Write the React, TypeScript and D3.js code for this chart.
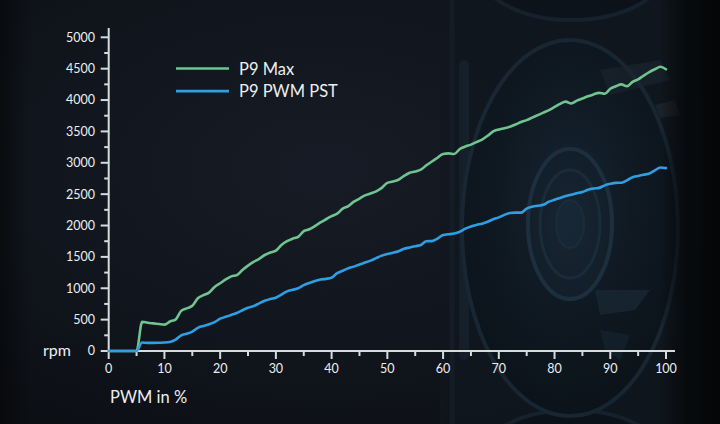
import React from "react";
import * as d3 from "d3";

const pwm: number[] = Array.from({ length: 101 }, (_, i) => i);

const p9Max: number[] = [
  0, 0, 0, 0, 0, 0, 465, 450, 440, 430,
  420, 470, 500, 640, 680, 720, 840, 890, 930, 1020,
  1080, 1140, 1190, 1210, 1290, 1360, 1420, 1470, 1530, 1570,
  1600, 1690, 1750, 1790, 1820, 1910, 1940, 1990, 2050, 2100,
  2150, 2190, 2270, 2310, 2380, 2430, 2480, 2510, 2545, 2600,
  2680, 2700, 2730, 2790, 2840, 2860, 2890, 2960, 3020, 3080,
  3140, 3150, 3140, 3220, 3260, 3290, 3330, 3370, 3430, 3500,
  3530, 3550, 3575, 3610, 3650, 3680, 3720, 3760, 3800, 3840,
  3890, 3940, 3975, 3945, 3990, 4025, 4060, 4090, 4115, 4100,
  4180, 4220, 4250, 4220, 4290, 4330, 4390, 4445, 4490, 4530,
  4490,
];

const p9PwmPst: number[] = [
  0, 0, 0, 0, 0, 0, 135, 130, 130, 132,
  135, 145, 180, 250, 275, 310, 370, 400, 425, 460,
  515, 545, 575, 605, 650, 690, 715, 760, 800, 830,
  850, 900, 950, 975, 1000, 1050, 1085, 1115, 1140, 1150,
  1170, 1240, 1280, 1320, 1345, 1380, 1410, 1440, 1480, 1520,
  1545, 1565, 1590, 1630, 1650, 1670, 1690, 1750, 1752, 1790,
  1850, 1860, 1872, 1900, 1950, 1985, 2010, 2030, 2060, 2100,
  2130, 2170, 2200, 2205, 2205, 2270, 2300, 2315, 2330, 2380,
  2410, 2440, 2470, 2490, 2515, 2535, 2570, 2590, 2600, 2640,
  2665, 2680, 2682, 2720, 2770, 2790, 2810, 2830, 2880, 2925,
  2915,
];

const seriesNames = ["P9 Max", "P9 PWM PST"];
const seriesColors = ["#6fc490", "#2f9fe4"];

const yMajorTicks: number[] = [0, 500, 1000, 1500, 2000, 2500, 3000, 3500, 4000, 4500, 5000];
const yMinorTicks: number[] = [250, 750, 1250, 1750, 2250, 2750, 3250, 3750, 4250, 4750];
const xMajorTicks: number[] = [0, 10, 20, 30, 40, 50, 60, 70, 80, 90, 100];
const xMinorTicks: number[] = [5, 15, 25, 35, 45, 55, 65, 75, 85, 95];

const yLabel = "rpm";
const xLabel = "PWM in %";

const W = 720;
const H = 424;
const FONT = "Lato, 'Open Sans', sans-serif";

export default function App() {
  const x = d3.scaleLinear().domain([0, 100]).range([108.7, 666]);
  const y = d3.scaleLinear().domain([0, 5000]).range([351, 37.3]);

  const line = d3
    .line<number>()
    .x((_, i) => x(pwm[i]))
    .y((d) => y(d))
    .curve(d3.curveMonotoneX);

  const series = [p9Max, p9PwmPst];
  const axisColor = "#d9dadc";
  const textColor = "#eceef0";

  return (
    <svg
      width={W}
      height={H}
      viewBox={`0 0 ${W} ${H}`}
      style={{ position: "absolute", left: 0, top: 0, display: "block" }}
    >
      <defs>
        <radialGradient id="bgGlow" cx="0.45" cy="0.4" r="0.7">
          <stop offset="0" stopColor="#161b25" />
          <stop offset="0.6" stopColor="#11151d" />
          <stop offset="1" stopColor="#0c0f14" />
        </radialGradient>
        <linearGradient id="rightFade" x1="0" x2="1" y1="0" y2="0">
          <stop offset="0" stopColor="#06080a" stopOpacity="0" />
          <stop offset="0.45" stopColor="#06080a" stopOpacity="0.85" />
          <stop offset="1" stopColor="#050607" stopOpacity="1" />
        </linearGradient>
        <linearGradient id="leftFade" x1="0" x2="1" y1="0" y2="0">
          <stop offset="0" stopColor="#050607" stopOpacity="1" />
          <stop offset="1" stopColor="#050607" stopOpacity="0" />
        </linearGradient>
        <linearGradient id="fanFade" x1="0" x2="1" y1="0" y2="0">
          <stop offset="0" stopColor="#12161e" stopOpacity="0.7" />
          <stop offset="0.2" stopColor="#12161e" stopOpacity="0" />
        </linearGradient>
        <radialGradient id="fanBody" cx="0.5" cy="0.42" r="0.6">
          <stop offset="0" stopColor="#172634" />
          <stop offset="0.55" stopColor="#0f1a23" />
          <stop offset="1" stopColor="#0b131a" />
        </radialGradient>
        <radialGradient id="hubGrad" cx="0.5" cy="0.5" r="0.5">
          <stop offset="0" stopColor="#1a2a38" />
          <stop offset="1" stopColor="#13202b" />
        </radialGradient>
      </defs>

      {/* background */}
      <rect x={0} y={0} width={W} height={H} fill="url(#bgGlow)" />
      <rect x={0} y={0} width={30} height={H} fill="url(#leftFade)" opacity={0.6} />

      {/* stylised fan */}
      <g opacity={0.85}>
        <rect x={452} y={-30} width={245} height={490} rx={26} fill="#10171f" stroke="#16222c" strokeWidth={5} />
        <rect x={459} y={60} width={10} height={300} rx={5} fill="#16222d" />
        <ellipse cx={572} cy={-40} rx={100} ry={60} fill="#0c131a" stroke="#172430" strokeWidth={4} />
        <ellipse cx={572} cy={470} rx={100} ry={60} fill="#0c131a" stroke="#172430" strokeWidth={4} />
        <ellipse cx={570} cy={228} rx={108} ry={188} fill="url(#fanBody)" stroke="#1a2a37" strokeWidth={4} />
        <path d="M 600 70 L 660 60 L 670 80 L 610 95 Z" fill="#1f2a33" opacity={0.6} />
        <path d="M 655 105 L 675 100 L 680 115 L 660 118 Z" fill="#33383e" opacity={0.45} />
        <path d="M 595 290 L 650 290 L 635 310 L 600 315 Z" fill="#1b2d3a" opacity={0.7} />
        <path d="M 600 330 L 630 335 L 620 360 L 605 350 Z" fill="#172733" opacity={0.7} />
        <ellipse cx={570} cy={224} rx={42} ry={75} fill="url(#hubGrad)" stroke="#1f3444" strokeWidth={4} />
        <ellipse cx={570} cy={224} rx={30} ry={54} fill="none" stroke="#1c2f3e" strokeWidth={3} />
        <ellipse cx={570} cy={224} rx={14} ry={24} fill="#192a38" stroke="#1d3041" strokeWidth={2} />
      </g>
      <rect x={440} y={0} width={120} height={H} fill="url(#fanFade)" />
      <rect x={660} y={0} width={60} height={H} fill="url(#rightFade)" />

      {/* axes */}
      <line x1={x(0)} x2={x(0)} y1={28} y2={y(0)} stroke={axisColor} strokeWidth={2} />
      <line x1={x(0) - 1} x2={675} y1={y(0)} y2={y(0)} stroke={axisColor} strokeWidth={2} />

      {yMajorTicks.map((t) => (
        <g key={"ym" + t}>
          <line x1={x(0) - 8} x2={x(0)} y1={y(t)} y2={y(t)} stroke={axisColor} strokeWidth={2} />
          <text
            x={95}
            y={y(t)}
            dy="0.35em"
            textAnchor="end"
            fill={textColor}
            fontFamily={FONT}
            fontSize={12.5}
          >
            {t}
          </text>
        </g>
      ))}
      {yMinorTicks.map((t) => (
        <line key={"yn" + t} x1={x(0) - 4.5} x2={x(0)} y1={y(t)} y2={y(t)} stroke={axisColor} strokeWidth={2} />
      ))}
      {xMajorTicks.map((t) => (
        <g key={"xm" + t}>
          <line x1={x(t)} x2={x(t)} y1={y(0)} y2={y(0) + 8} stroke={axisColor} strokeWidth={2} />
          <text
            x={x(t)}
            y={373}
            textAnchor="middle"
            fill={textColor}
            fontFamily={FONT}
            fontSize={12.5}
          >
            {t}
          </text>
        </g>
      ))}
      {xMinorTicks.map((t) => (
        <line key={"xn" + t} x1={x(t)} x2={x(t)} y1={y(0)} y2={y(0) + 5} stroke={axisColor} strokeWidth={2} />
      ))}

      <text x={43} y={355.5} fill={textColor} fontFamily={FONT} fontSize={16}>
        {yLabel}
      </text>
      <text x={110} y={403} fill={textColor} fontFamily={FONT} fontSize={16.5}>
        {xLabel}
      </text>

      {/* series */}
      {series.map((s, i) => (
        <path
          key={seriesNames[i]}
          d={line(s) || ""}
          fill="none"
          stroke={seriesColors[i]}
          strokeWidth={2.6}
          strokeLinejoin="round"
          strokeLinecap="round"
        />
      ))}

      {/* legend */}
      {seriesNames.map((name, i) => (
        <g key={"lg" + name}>
          <line
            x1={176}
            x2={229}
            y1={68.5 + i * 22.6}
            y2={68.5 + i * 22.6}
            stroke={seriesColors[i]}
            strokeWidth={2.6}
          />
          <text x={239} y={75 + i * 22.4} fill={textColor} fontFamily={FONT} fontSize={16.5}>
            {name}
          </text>
        </g>
      ))}
    </svg>
  );
}
